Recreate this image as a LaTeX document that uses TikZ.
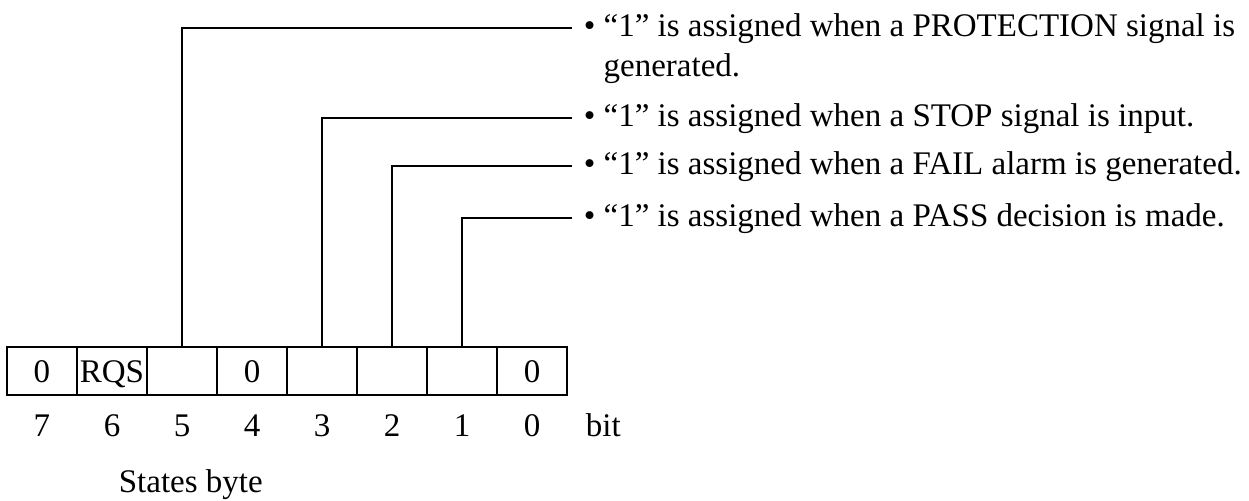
\documentclass[tikz,border=0pt]{standalone}
\usepackage{fontspec}
\setmainfont{Liberation Serif}
\begin{document}
\begin{tikzpicture}[x=0.5pt,y=-0.5pt,line width=0.85pt,
  fnt/.style={font=\fontsize{16.5}{20}\selectfont},
  cell/.style={draw,fnt,minimum width=35pt,minimum height=24pt,inner sep=0pt,outer sep=0pt,text height=11.5pt,text depth=0pt},
  txt/.style={fnt,inner xsep=5.5pt,inner ysep=0pt,text height=11pt,text depth=2pt,anchor=west},
  lbl/.style={fnt,inner sep=0pt,anchor=base}]
\useasboundingbox (0,0) rectangle (1249,501);
% byte cells
\node[cell] (b7) at (42,371) {0};
\node[cell] (b6) at (112,371) {RQS};
\node[cell] (b5) at (182,371) {};
\node[cell] (b4) at (252,371) {0};
\node[cell] (b3) at (322,371) {};
\node[cell] (b2) at (392,371) {};
\node[cell] (b1) at (462,371) {};
\node[cell] (b0) at (532,371) {0};
% bit numbers
\node[lbl] (n7) at (42,437) {7};
\node[lbl] (n6) at (112,437) {6};
\node[lbl] (n5) at (182,437) {5};
\node[lbl] (n4) at (252,437) {4};
\node[lbl] (n3) at (322,437) {3};
\node[lbl] (n2) at (392,437) {2};
\node[lbl] (n1) at (462,437) {1};
\node[lbl] (n0) at (532,437) {0};
\node[lbl,anchor=base west] (bit) at (585,437) {bit};
\node[lbl,anchor=base west] (cap) at (118,493) {States byte};
% descriptions
\node[txt] (t5) at (572,28) {•\ “1” is assigned when a PROTECTION signal is};
\node[txt,anchor=base west] (t5b) at ([yshift=-20pt]t5.base west) {\phantom{•\ }generated.};
\node[txt] (t3) at (572,118) {•\ “1” is assigned when a STOP signal is input.};
\node[txt] (t2) at (572,166) {•\ “1” is assigned when a FAIL alarm is generated.};
\node[txt] (t1) at (572,218) {•\ “1” is assigned when a PASS decision is made.};
% leads
\draw (b5.north) |- (t5.west);
\draw (b3.north) |- (t3.west);
\draw (b2.north) |- (t2.west);
\draw (b1.north) |- (t1.west);
\end{tikzpicture}
\end{document}
